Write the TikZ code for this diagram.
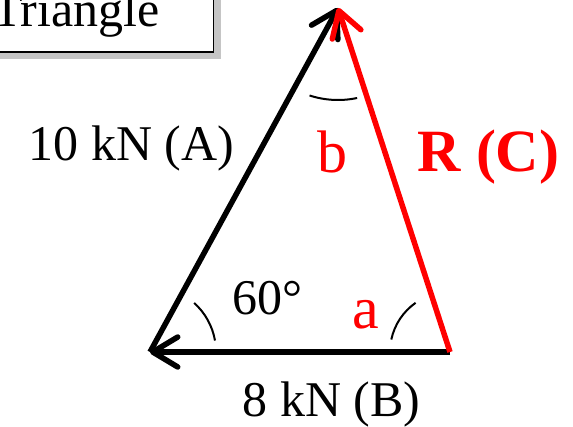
\documentclass[tikz,border=0pt]{standalone}
\usepackage{fontspec}
\setmainfont{Liberation Serif}
\usetikzlibrary{arrows.meta,shadows}

\begin{document}
\begin{tikzpicture}[x=1pt, y=-1pt,
        force/.style={line width=5.5pt, -{Straight Barb[round, length=25pt, width=30pt]}},
        anglemark/.style={line width=2pt},
        lbl/.style={font=\fontsize{50}{60}\selectfont, inner sep=0pt, anchor=base},
        redlbl/.style={lbl, red, font=\fontsize{60}{72}\selectfont},
        titlebox/.style={draw, line width=1.8pt, fill=white, inner sep=0pt,
            font=\fontsize{50}{60}\selectfont, anchor=base,
            minimum width=275pt, text height=60pt, text depth=25pt,
            drop shadow={shadow xshift=7pt, shadow yshift=-7pt, fill=black!45}}
    ]
    \useasboundingbox (0,0) rectangle (573,427);

    % corners of the triangle
    \coordinate (left) at (150,352);
    \coordinate (right) at (450,352);
    \coordinate (top) at (338,8);

    \node[titlebox] (title) at (76,27) {Triangle};

    % the three forces
    \draw[force] (right) -- (left);
    \draw[force] (left) -- (top);
    \draw[force, red] (right) -- (top);

    % angle marks
    \draw[anglemark] ([shift={(-10:66)}]left) arc[start angle=-10, end angle=-48, radius=66];
    \draw[anglemark] ([shift={(-125:60)}]right) arc[start angle=-125, end angle=-168, radius=60];
    \draw[anglemark] ([shift={(108:92)}]top) arc[start angle=108, end angle=78, radius=92];

    % labels
    \node[lbl] (forceA) at (131.5,161) {10 kN (A)};
    \node[lbl] (forceB) at (331.5,417) {8 kN (B)};
    \node[redlbl, font=\fontsize{60}{72}\selectfont\bfseries] (forceC) at (488.5,172) {R (C)};
    \node[lbl] (angle60) at (267.5,315) {60°};
    \node[redlbl] (angleA) at (366,329) {a};
    \node[redlbl] (angleB) at (332,173) {b};

\end{tikzpicture}
\end{document}
